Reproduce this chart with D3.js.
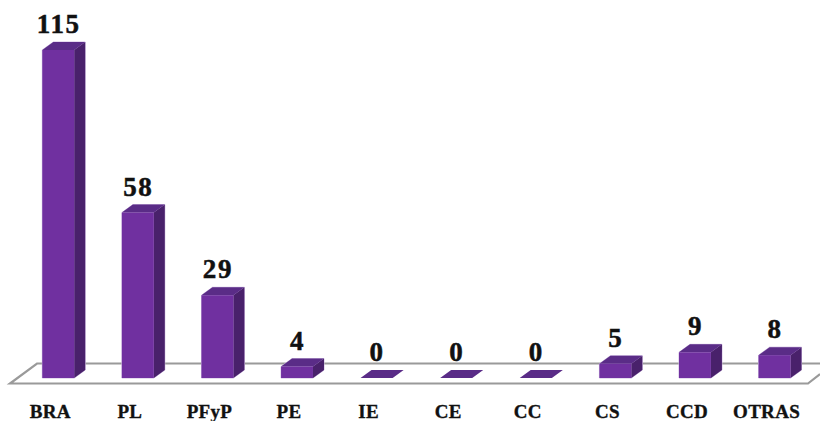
<!DOCTYPE html>
<html><head><meta charset="utf-8">
<script src="https://cdnjs.cloudflare.com/ajax/libs/d3/7.8.5/d3.min.js"></script>
<style>html,body{margin:0;padding:0;background:#fff}svg{display:block}
text{font-family:"Liberation Serif",serif;font-weight:bold;fill:#111}</style></head>
<body><svg id="c" width="820" height="421"></svg>
<script>
const categories=["BRA","PL","PFyP","PE","IE","CE","CC","CS","CCD","OTRAS"];
const values=[115,58,29,4,0,0,0,5,9,8];
const W=820,H=421,dx=11,dy=8,base=378;
const svg=d3.select("#c");
const x=d3.scaleBand().domain(categories).range([42.3,790.5]).paddingInner(0.599).paddingOuter(0);
const y=d3.scaleLinear().domain([0,115]).range([base,50]);
const path=p=>d3.line()(p)+"Z";
// floor
svg.append("path").attr("d",d3.line()([[W,363.5],[37,363.5],[10,383.5],[808,383.5],[W,374]]))
  .attr("fill","none").attr("stroke","#9a9a9a").attr("stroke-width",2.2);
const g=svg.selectAll("g.bar").data(categories.map((c,i)=>({c,v:values[i]}))).join("g").attr("class","bar");
const edge="#cdb9e0";
// pale silhouette behind the faces
g.append("path").attr("d",d=>{const a=x(d.c),b=a+x.bandwidth(),t=y(d.v);
  return path([[a,t],[a+dx,t-dy],[b+dx,t-dy],[b+dx,base-dy],[b,base],[a,base]]);})
  .attr("fill",edge).attr("stroke",edge).attr("stroke-width",d=>d.v>0?1:0);
g.filter(d=>d.v>0).append("path").attr("d",d=>{const a=x(d.c),b=a+x.bandwidth(),t=y(d.v);
  return path([[b,t],[b+dx,t-dy],[b+dx,base-dy],[b,base]]);}).attr("fill","#49216b");
g.append("path").attr("d",d=>{const a=x(d.c),b=a+x.bandwidth(),t=y(d.v);
  return path([[a,t],[a+dx,t-dy],[b+dx,t-dy],[b,t]]);}).attr("fill","#5a2c87");
g.filter(d=>d.v>0).append("rect").attr("x",d=>x(d.c)).attr("y",d=>y(d.v)).attr("width",x.bandwidth())
  .attr("height",d=>base-y(d.v)).attr("fill","#7030a0");
g.append("text").attr("x",d=>x(d.c)+x.bandwidth()/2+.5).attr("y",d=>y(d.v)-dy-9)
  .attr("text-anchor","middle").attr("font-size",27).attr("letter-spacing",1.6)
  .attr("stroke","#111").attr("stroke-width",.5).text(d=>d.v);
// category axis
const ax=svg.append("g").attr("transform","translate(-8,405)").call(d3.axisBottom(x).tickSize(0).tickPadding(0));
ax.select(".domain").remove();
ax.selectAll("text").attr("font-size",19).attr("letter-spacing",.3).style("font-family",'"Liberation Serif",serif')
  .attr("fill","#111").attr("stroke","#111").attr("stroke-width",.35).attr("dy",0).attr("y",13);
</script></body></html>
